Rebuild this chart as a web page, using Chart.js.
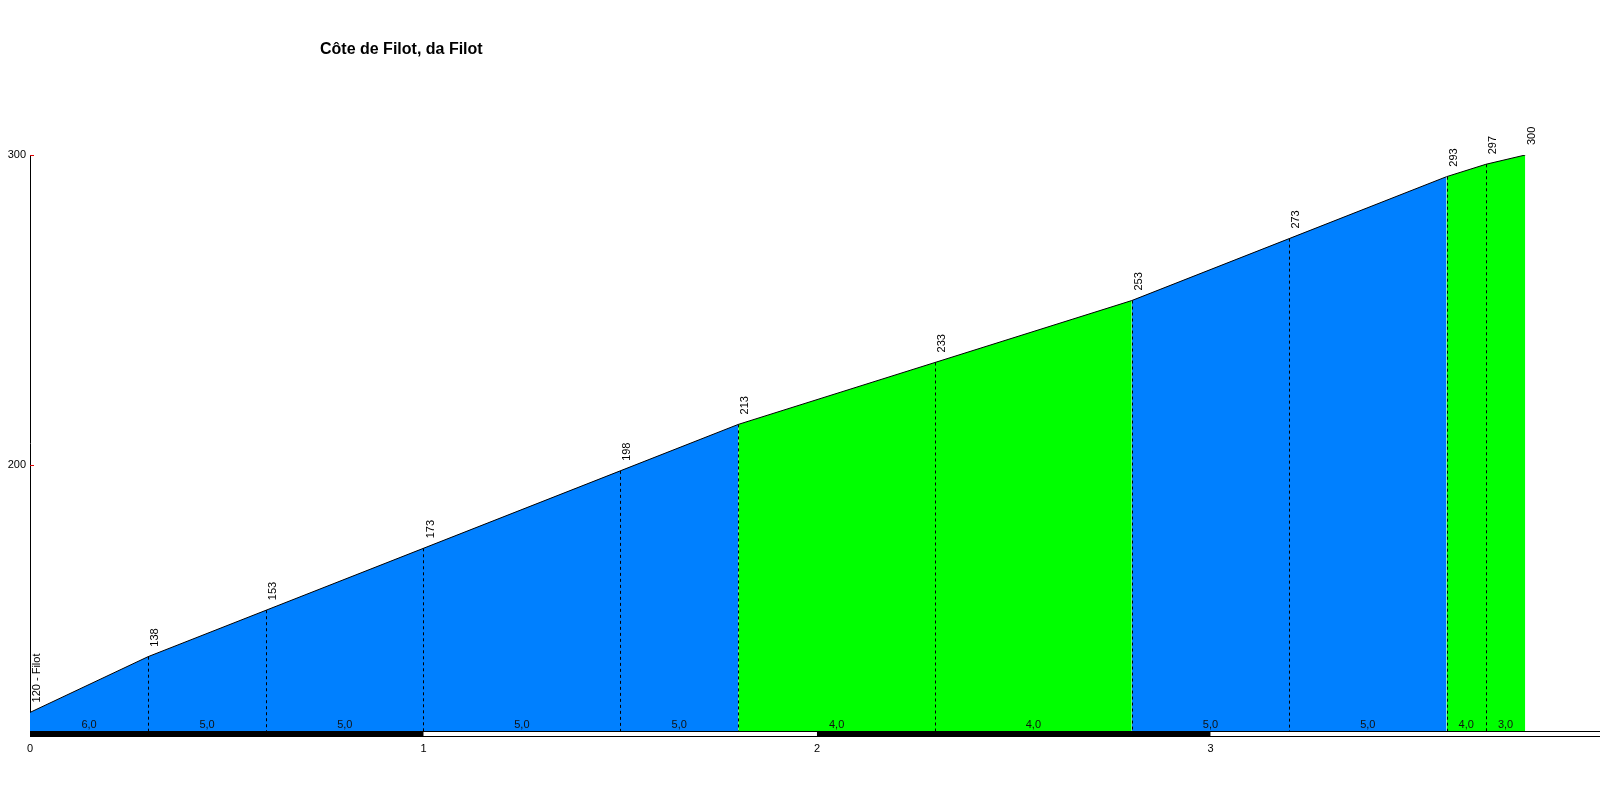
<!DOCTYPE html>
<html>
<head>
<meta charset="utf-8">
<script src="https://cdn.jsdelivr.net/npm/chart.js@4/dist/chart.umd.min.js"></script>
<style>
  html, body { margin: 0; padding: 0; background: #fff; }
  #wrap { width: 1600px; height: 800px; position: relative; }
</style>
</head>
<body>
<div id="wrap"><canvas id="profile"></canvas></div>
<script>
// ── Data ──────────────────────────────────────────────────────
const title = 'Côte de Filot, da Filot';
const distances = [0, 0.3, 0.6, 1.0, 1.5, 1.8, 2.3, 2.8, 3.2, 3.6, 3.7, 3.8];      // km
const elevations = [120, 138, 153, 173, 198, 213, 233, 253, 273, 293, 297, 300];  // m
const pointLabels = ['120 - Filot', '138', '153', '173', '198', '213', '233', '253', '273', '293', '297', '300'];
const gradients = [6.0, 5.0, 5.0, 5.0, 5.0, 4.0, 4.0, 5.0, 5.0, 4.0, 3.0];         // % per segment
const xTicks = [0, 1, 2, 3];
const yTicks = [200, 300];

const FONT = 'Arial, "Liberation Sans", sans-serif';

function gradientColor(g) {
  return g >= 5 ? '#0080ff' : '#00ff00';
}

// ── Decorations: dashed verticals, labels, km bar, title ─────
const profileDecor = {
  id: 'profileDecor',
  afterDatasetsDraw(chart) {
    const { ctx, chartArea, scales: { x, y } } = chart;
    const base = chartArea.bottom;
    ctx.save();

    // dashed verticals at interior points
    ctx.strokeStyle = '#000';
    ctx.lineWidth = 1;
    ctx.setLineDash([3, 3]);
    for (let i = 1; i < distances.length - 1; i++) {
      const px = Math.round(x.getPixelForValue(distances[i])) + 0.5;
      ctx.beginPath();
      ctx.moveTo(px, y.getPixelForValue(elevations[i]));
      ctx.lineTo(px, base);
      ctx.stroke();
    }
    ctx.setLineDash([]);

    // gradient labels
    ctx.fillStyle = '#111';
    ctx.font = '11px ' + FONT;
    ctx.textAlign = 'center';
    ctx.textBaseline = 'alphabetic';
    gradients.forEach((g, i) => {
      const mid = (x.getPixelForValue(distances[i]) + x.getPixelForValue(distances[i + 1])) / 2;
      ctx.fillText(g.toFixed(1).replace('.', ','), mid, base - 3);
    });

    // elevation labels (rotated)
    ctx.fillStyle = '#000';
    ctx.font = '11px ' + FONT;
    ctx.textAlign = 'left';
    ctx.textBaseline = 'middle';
    pointLabels.forEach((lbl, i) => {
      const px = x.getPixelForValue(distances[i]) + 7;
      const py = y.getPixelForValue(elevations[i]) - 10;
      ctx.save();
      ctx.translate(px, py);
      ctx.rotate(-Math.PI / 2);
      ctx.fillText(lbl, 0, 0);
      ctx.restore();
    });

    // red ticks on y axis
    ctx.strokeStyle = '#e00000';
    yTicks.forEach(v => {
      const py = Math.round(y.getPixelForValue(v)) + 0.5;
      ctx.beginPath();
      ctx.moveTo(chartArea.left, py);
      ctx.lineTo(chartArea.left + 4, py);
      ctx.stroke();
    });

    // km bar (alternating black / white)
    const barTop = base, barH = 6;
    ctx.fillStyle = '#000';
    ctx.fillRect(chartArea.left, barTop, chartArea.right - chartArea.left, barH);
    ctx.fillStyle = '#fff';
    for (let k = 1; k < x.max; k += 2) {
      const x0 = x.getPixelForValue(k);
      const x1 = Math.min(x.getPixelForValue(k + 1), chartArea.right);
      ctx.fillRect(x0, barTop + 1, x1 - x0, barH - 2);
    }

    // title
    ctx.fillStyle = '#000';
    ctx.font = 'bold 16px ' + FONT;
    ctx.textAlign = 'left';
    ctx.textBaseline = 'alphabetic';
    ctx.fillText(title, 320, 54);

    ctx.restore();
  }
};

// ── Chart ─────────────────────────────────────────────────────
new Chart(document.getElementById('profile'), {
  type: 'line',
  data: {
    datasets: [{
      data: distances.map((d, i) => ({ x: d, y: elevations[i] })),
      borderColor: '#000',
      borderWidth: 1,
      pointRadius: 0,
      tension: 0,
      fill: 'start',
      backgroundColor: gradientColor(gradients[0]),
      segment: {
        backgroundColor: c => gradientColor(gradients[c.p0DataIndex])
      }
    }]
  },
  options: {
    responsive: true,
    maintainAspectRatio: false,
    animation: false,
    layout: { padding: { top: 155, left: 0, right: 0, bottom: 0 } },
    plugins: { legend: { display: false }, tooltip: { enabled: false } },
    scales: {
      x: {
        type: 'linear',
        min: 0,
        max: 3.99,
        afterBuildTicks: s => { s.ticks = xTicks.map(v => ({ value: v })); },
        afterFit: s => { s.height = 69; },
        grid: { display: false, drawTicks: false },
        border: { display: false },
        ticks: { color: '#000', font: { family: FONT, size: 11 }, padding: 11, maxRotation: 0 }
      },
      y: {
        min: 114,
        max: 300,
        afterBuildTicks: s => { s.ticks = yTicks.map(v => ({ value: v })); },
        afterFit: s => { s.width = 30; },
        grid: { display: false, drawTicks: false },
        border: { display: true, color: '#000', width: 1 },
        ticks: { color: '#000', font: { family: FONT, size: 11 }, padding: 4 }
      }
    }
  },
  plugins: [profileDecor]
});
</script>
</body>
</html>
